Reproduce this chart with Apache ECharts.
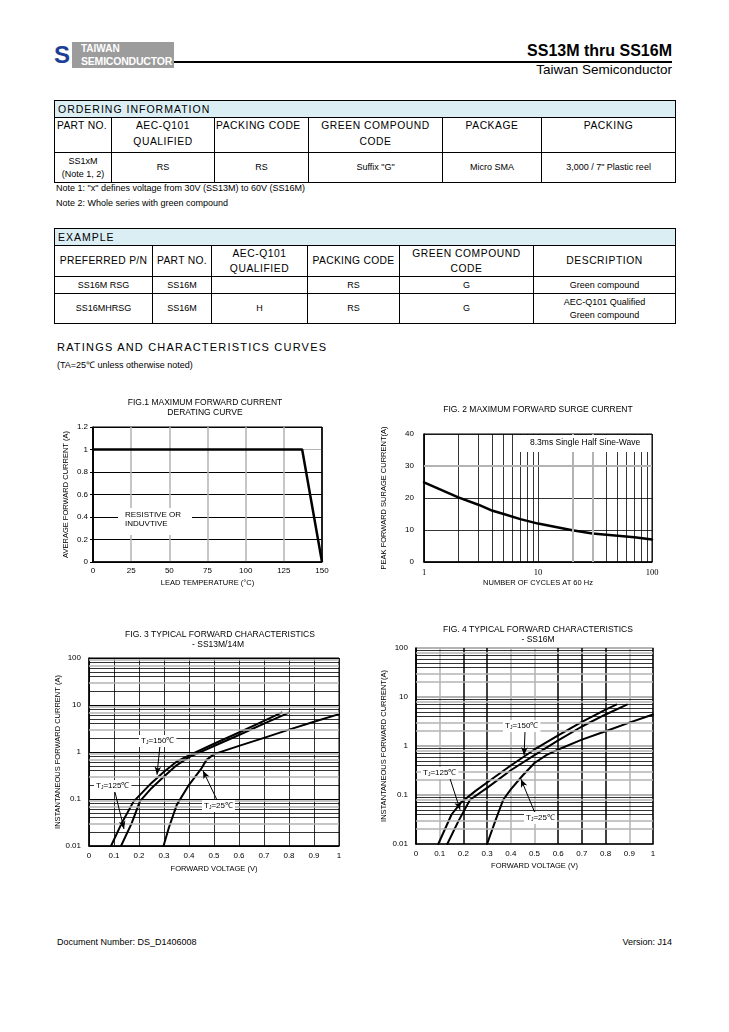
<!DOCTYPE html>
<html><head><meta charset="utf-8">
<script src="https://cdn.jsdelivr.net/npm/echarts@6/dist/echarts.min.js"></script>
<style>
body{margin:0;width:729px;height:1032px;background:#fff;font-family:"Liberation Sans",Arial,sans-serif;color:#000;position:relative;overflow:hidden}
.abs{position:absolute;white-space:nowrap}
table{border-collapse:collapse;position:absolute;table-layout:fixed}
td{border:1px solid #000;padding:0;text-align:center;vertical-align:middle}
.ttl td{background:#dbeef4;text-align:left;padding-left:3px;font-size:10.5px;letter-spacing:1px}
.hd td{font-size:10.3px;letter-spacing:0.55px;line-height:16px;white-space:nowrap}
.dt td{font-size:9px;line-height:13px}
#c{position:absolute;left:0;top:0;width:729px;height:1032px}
</style></head><body>
<!-- header -->
<div class="abs" style="left:52px;top:42px;width:20px;height:26px;background:#fff;color:#1d3f95;font:bold 24px/26px 'Liberation Sans';text-align:center">S</div>
<div class="abs" style="left:72px;top:42px;width:102px;height:26px;background:#9c9c9c;color:#fff"></div>
<div class="abs" style="left:81px;top:43px;color:#fff;font:bold 10px/12px 'Liberation Sans'">TAIWAN</div>
<div class="abs" style="left:81px;top:55px;color:#fff;font:bold 10.5px/12px 'Liberation Sans';letter-spacing:-0.2px">SEMICONDUCTOR</div>
<div class="abs" style="left:174px;top:61px;width:498px;height:1.5px;background:#000"></div>
<div class="abs" style="right:57px;top:41px;font:bold 16px/20px 'Liberation Sans'">SS13M thru SS16M</div>
<div class="abs" style="right:57px;top:62px;font:13.5px/16px 'Liberation Sans'">Taiwan Semiconductor</div>

<table style="left:54px;top:100px;width:621px">
<colgroup><col style="width:57px"><col style="width:103px"><col style="width:94px"><col style="width:134px"><col style="width:99px"><col style="width:134px"></colgroup>
<tr class="ttl" style="height:17px"><td colspan="6">ORDERING INFORMATION</td></tr>
<tr class="hd" style="height:35px"><td style="vertical-align:top;text-align:left;padding-left:2px;letter-spacing:0.3px">PART NO.</td><td style="vertical-align:top">AEC-Q101<br>QUALIFIED</td><td style="vertical-align:top;text-align:left;padding-left:1px">PACKING CODE</td><td style="vertical-align:top">GREEN COMPOUND<br>CODE</td><td style="vertical-align:top">PACKAGE</td><td style="vertical-align:top">PACKING</td></tr>
<tr class="dt" style="height:30px"><td>SS1xM<br>(Note 1, 2)</td><td>RS</td><td>RS</td><td>Suffix "G"</td><td>Micro SMA</td><td>3,000 / 7" Plastic reel</td></tr>
</table>
<div class="abs" style="left:56px;top:182px;font:9px/13px 'Liberation Sans'">Note 1: "x" defines voltage from 30V (SS13M) to 60V (SS16M)</div>
<div class="abs" style="left:56px;top:197px;font:9px/13px 'Liberation Sans'">Note 2: Whole series with green compound</div>

<table style="left:54px;top:228px;width:621px">
<colgroup><col style="width:98px"><col style="width:59px"><col style="width:96px"><col style="width:92px"><col style="width:134px"><col style="width:142px"></colgroup>
<tr class="ttl" style="height:17px"><td colspan="6">EXAMPLE</td></tr>
<tr class="hd" style="height:31px"><td style="letter-spacing:0.3px">PREFERRED P/N</td><td style="letter-spacing:0.3px">PART NO.</td><td style="line-height:15px">AEC-Q101<br>QUALIFIED</td><td style="letter-spacing:0.3px">PACKING CODE</td><td style="line-height:15px">GREEN COMPOUND<br>CODE</td><td>DESCRIPTION</td></tr>
<tr class="dt" style="height:17px"><td>SS16M RSG</td><td>SS16M</td><td></td><td>RS</td><td>G</td><td>Green compound</td></tr>
<tr class="dt" style="height:30px"><td>SS16MHRSG</td><td>SS16M</td><td>H</td><td>RS</td><td>G</td><td>AEC-Q101 Qualified<br>Green compound</td></tr>
</table>

<div class="abs" style="left:57px;top:340px;font:11px/14px 'Liberation Sans';letter-spacing:1.2px">RATINGS AND CHARACTERISTICS CURVES</div>
<div class="abs" style="left:57px;top:359px;font:9px/12px 'Liberation Sans'">(TA=25℃ unless otherwise noted)</div>

<div class="abs" style="left:57px;top:936px;font:9px/12px 'Liberation Sans'">Document Number: DS_D1406008</div>
<div class="abs" style="right:57px;top:936px;font:9px/12px 'Liberation Sans'">Version: J14</div>

<div id="c"></div>
<script>
// ---------- data ----------
const fig1Temp = [0, 137, 150];
const fig1Current = [1, 1, 0];
const fig1XTicks = ['0','25','50','75','100','125','150'];
const fig1YTicks = ['0','0.2','0.4','0.6','0.8','1','1.2'];

const fig2Cycles = [1, 2, 3, 4, 5, 7, 10, 20, 30, 50, 70, 100];
const fig2Surge  = [24.9, 20.2, 17.9, 16, 15, 13.4, 12, 9.9, 8.9, 8.2, 7.7, 7];
const fig2XTicks = ['1','10','100'];
const fig2YTicks = ['0','10','20','30','40'];

const fig3V150 = [0.088, 0.13, 0.178, 0.25, 0.3, 0.35, 0.4, 0.5, 0.6, 0.7, 0.77];
const fig3I150 = [0.01, 0.03, 0.088, 0.22, 0.38, 0.62, 0.85, 1.5, 2.6, 4.6, 6.9];
const fig3V125 = [0.128, 0.17, 0.204, 0.25, 0.3, 0.35, 0.4, 0.5, 0.6, 0.7, 0.8];
const fig3I125 = [0.01, 0.03, 0.09, 0.17, 0.3, 0.52, 0.78, 1.34, 2.3, 4.0, 6.9];
const fig3V25  = [0.298, 0.32, 0.351, 0.4, 0.45, 0.47, 0.5, 0.6, 0.7, 0.8, 0.9, 1.0];
const fig3I25  = [0.01, 0.025, 0.075, 0.2, 0.45, 0.68, 0.9, 1.35, 2.0, 3.0, 4.4, 6.4];

const fig4V150 = [0.094, 0.15, 0.19, 0.25, 0.3, 0.4, 0.5, 0.6, 0.7, 0.8, 0.845];
const fig4I150 = [0.01, 0.04, 0.07, 0.12, 0.18, 0.4, 0.85, 1.65, 3.1, 5.5, 7];
const fig4V125 = [0.132, 0.18, 0.228, 0.3, 0.4, 0.5, 0.6, 0.7, 0.8, 0.89];
const fig4I125 = [0.01, 0.03, 0.08, 0.14, 0.32, 0.65, 1.3, 2.5, 4.4, 7];
const fig4V25  = [0.3, 0.335, 0.368, 0.4, 0.45, 0.5, 0.55, 0.6, 0.7, 0.8, 0.9, 1.0];
const fig4I25  = [0.01, 0.03, 0.08, 0.13, 0.25, 0.45, 0.65, 0.85, 1.35, 2.0, 3.0, 4.4];

const voltTicks = ['0','0.1','0.2','0.3','0.4','0.5','0.6','0.7','0.8','0.9','1'];
const logTicks = ['0.01','0.1','1','10','100'];
const logDecades = [0.01, 0.1, 1, 10];
const logMultipliers = [2, 3, 4, 5, 6, 7, 8, 9];

// ---------- helpers ----------
const zip = (a, b) => a.map((v, i) => [v, b[i]]);
const BLACK = '#000', GREY = '#b3b3b3';
const FONT = 'Liberation Sans';

function hLine(v, color, width){ return {yAxis: v, lineStyle:{color, width, type:'solid'}}; }
function vLine(v, color, width){ return {xAxis: v, lineStyle:{color, width, type:'solid'}}; }

function gridSeries(idx, anchor, lines){
  return {type:'line', xAxisIndex:idx, yAxisIndex:idx, data:[anchor], symbol:'none',
    lineStyle:{opacity:0}, silent:true, z:1,
    markLine:{silent:true, symbol:['none','none'], label:{show:false}, animation:false, data:lines}};
}
function arrowSeries(idx, anchor, arrows){
  return {type:'line', xAxisIndex:idx, yAxisIndex:idx, data:[anchor], symbol:'none',
    lineStyle:{opacity:0}, silent:true, z:5,
    markLine:{silent:true, label:{show:false}, animation:false,
      lineStyle:{color:BLACK, width:1, type:'solid'},
      data: arrows.map(a => [{coord:a[0], symbol:'none'}, {coord:a[1], symbol:'arrow', symbolSize:[5,8]}])}};
}
function curve(idx, data, w){
  return {type:'line', xAxisIndex:idx, yAxisIndex:idx, data, symbol:'none', smooth:false,
    lineStyle:{color:BLACK, width:w, join:'round', cap:'round'}, z:3, silent:true};
}

// minor log grid lines
const fig3Minor = [];
logDecades.forEach(d => logMultipliers.forEach(m => {
  const grey = (m === 3 || m === 7 || m === 9);
  fig3Minor.push(hLine(d * m, grey ? GREY : BLACK, grey ? 1.5 : 0.8));
}));
const fig4Minor = [];
logDecades.forEach(d => logMultipliers.forEach(m => {
  const grey = (m === 2 || m === 3 || m === 8);
  fig4Minor.push(hLine(d * m, grey ? GREY : BLACK, grey ? 1.5 : 0.8));
}));
const fig2Minor = [];
[1, 10].forEach(d => logMultipliers.forEach(m => {
  const grey = (d === 10 && (m === 2 || m === 3));
  fig2Minor.push(vLine(d * m, grey ? GREY : BLACK, grey ? 2 : 0.8));
}));
fig2Minor.push(hLine(30, GREY, 2));

const labelStyle = {color:BLACK, fontFamily:FONT, fontSize:8};
const nameStyle = {color:BLACK, fontFamily:FONT, fontSize:7.5};

function xAxisBase(idx, extra){
  return Object.assign({gridIndex:idx, axisLine:{lineStyle:{color:BLACK, width:1.5}}, axisTick:{show:false},
    axisLabel:Object.assign({margin:5}, labelStyle), nameLocation:'middle', nameTextStyle:nameStyle}, extra);
}
function yAxisBase(idx, extra){
  return Object.assign({gridIndex:idx, axisLine:{show:true, lineStyle:{color:BLACK, width:1.5}}, axisTick:{show:true, length:3, lineStyle:{color:BLACK}},
    axisLabel:Object.assign({margin:6}, labelStyle), nameLocation:'middle', nameTextStyle:nameStyle, nameRotate:90}, extra);
}

function tjLabel(x, y, t){
  return {type:'text', x, y, z:100, style:{
    text:'{a|T}{b|J}{a|=' + t + '℃}', fill:BLACK, backgroundColor:'#fff', padding:[1,2,1,2],
    rich:{a:{fontFamily:FONT, fontSize:8, fill:BLACK, lineHeight:10}, b:{fontFamily:FONT, fontSize:5, fill:BLACK, padding:[4,0,0,0], lineHeight:10}},
    verticalAlign:'middle'}};
}
function title(x, y, text){
  return {type:'text', x, y, z:100, style:{text, fill:BLACK, font:'8.5px "Liberation Sans"', align:'center', verticalAlign:'middle', lineHeight:10}};
}

const chart = echarts.init(document.getElementById('c'), null, {renderer:'canvas', width:729, height:1032});
const option = {
  animation:false,
  backgroundColor:'transparent',
  grid:[
    {left:93, top:427, width:229, height:135, show:true, borderColor:BLACK, borderWidth:1},
    {left:424, top:434, width:228, height:128, show:true, borderColor:BLACK, borderWidth:1},
    {left:89, top:658, width:250, height:188, show:true, borderColor:BLACK, borderWidth:1},
    {left:416, top:648, width:237, height:196, show:true, borderColor:GREY, borderWidth:1.5}
  ],
  xAxis:[
    xAxisBase(0, {type:'value', min:0, max:150, interval:25, name:'LEAD TEMPERATURE (°C)', nameGap:17,
      axisLabel:Object.assign({margin:5, formatter:(v,i)=>fig1XTicks[i]}, labelStyle),
      splitLine:{show:true, lineStyle:{color:[BLACK,GREY,GREY,GREY,GREY,GREY,BLACK], width:1.5}}}),
    xAxisBase(1, {type:'log', logBase:10, min:1, max:100, splitNumber:2, name:'NUMBER OF CYCLES AT 60 Hz', nameGap:17,
      axisLabel:{margin:6, color:BLACK, fontFamily:'Liberation Serif', fontSize:8.5, formatter:(v,i)=>fig2XTicks[i]},
      splitLine:{show:true, lineStyle:{color:BLACK, width:0.8}}}),
    xAxisBase(2, {type:'value', min:0, max:1, interval:0.1, name:'FORWARD VOLTAGE (V)', nameGap:19,
      axisLabel:Object.assign({margin:6, formatter:(v,i)=>voltTicks[i]}, labelStyle),
      splitLine:{show:true, lineStyle:{color:BLACK, width:0.8}}}),
    xAxisBase(3, {type:'value', min:0, max:1, interval:0.1, name:'FORWARD VOLTAGE (V)', nameGap:18,
      axisLabel:Object.assign({margin:6, formatter:(v,i)=>voltTicks[i]}, labelStyle),
      splitLine:{show:true, lineStyle:{color:[BLACK,GREY,BLACK,BLACK,GREY,GREY,BLACK,BLACK,BLACK,GREY,BLACK], width:1.5}}})
  ],
  yAxis:[
    yAxisBase(0, {type:'value', min:0, max:1.2, interval:0.2, name:'AVERAGE FORWARD CURRENT (A)', nameGap:23,
      axisLabel:Object.assign({margin:5, formatter:(v,i)=>fig1YTicks[i]}, labelStyle),
      splitLine:{show:true, lineStyle:{color:[BLACK,BLACK,BLACK,BLACK,BLACK,GREY,BLACK], width:1}}}),
    yAxisBase(1, {type:'value', min:0, max:40, interval:10, name:'PEAK FORWARD SURAGE CURRENT(A)', nameGap:36,
      axisLabel:Object.assign({margin:10, formatter:(v,i)=>fig2YTicks[i]}, labelStyle), axisTick:{show:false},
      splitLine:{show:true, lineStyle:{color:BLACK, width:0.8}}}),
    yAxisBase(2, {type:'log', logBase:10, min:0.01, max:100, splitNumber:4, name:'INSTANTANEOUS FORWARD CURRENT (A)', nameGap:22,
      axisLabel:Object.assign({margin:8, formatter:(v,i)=>logTicks[i]}, labelStyle), axisTick:{show:false},
      splitLine:{show:true, lineStyle:{color:BLACK, width:1}}}),
    yAxisBase(3, {type:'log', logBase:10, min:0.01, max:100, splitNumber:4, name:'INSTANTANEOUS FORWARD CURRENT(A)', nameGap:28,
      axisLabel:Object.assign({margin:8, formatter:(v,i)=>logTicks[i]}, labelStyle), axisTick:{show:false},
      splitLine:{show:true, lineStyle:{color:GREY, width:2}}})
  ],
  series:[
    gridSeries(1, [1, 0], fig2Minor),
    gridSeries(2, [0, 0.01], fig3Minor),
    gridSeries(3, [0, 0.01], fig4Minor),
    {type:'line', xAxisIndex:0, yAxisIndex:0, data:zip(fig1Temp, fig1Current), symbol:'none', lineStyle:{color:BLACK, width:2.5}, z:3, silent:true},
    curve(1, zip(fig2Cycles, fig2Surge), 2.5),
    curve(2, zip(fig3V150, fig3I150), 2),
    curve(2, zip(fig3V125, fig3I125), 2),
    curve(2, zip(fig3V25, fig3I25), 2),
    curve(3, zip(fig4V150, fig4I150), 2),
    curve(3, zip(fig4V125, fig4I125), 2),
    curve(3, zip(fig4V25, fig4I25), 2),
    arrowSeries(2, [0, 0.01], [[[0.284, 1.4], [0.272, 0.33]], [[0.104, 0.14], [0.14, 0.023]], [[0.516, 0.086], [0.456, 0.4]]]),
    arrowSeries(3, [0, 0.01], [[[0.46, 2.0], [0.456, 0.65]], [[0.143, 0.22], [0.186, 0.05]], [[0.502, 0.043], [0.443, 0.21]]])
  ],
  graphic:[
    title(205, 403, 'FIG.1 MAXIMUM FORWARD CURRENT'),
    title(205, 413, 'DERATING CURVE'),
    title(538, 410, 'FIG. 2 MAXIMUM FORWARD SURGE CURRENT'),
    title(220, 635, 'FIG. 3 TYPICAL FORWARD CHARACTERISTICS'),
    title(218, 645, '- SS13M/14M'),
    title(538, 630, 'FIG. 4 TYPICAL FORWARD CHARACTERISTICS'),
    title(538, 640, '- SS16M'),
    {type:'rect', shape:{x:118, y:508, width:74, height:27}, style:{fill:'#fff'}, z:90},
    {type:'text', x:125, y:510, z:100, style:{text:'RESISTIVE OR\nINDUVTIVE', fill:BLACK, font:'8px "Liberation Sans"', lineHeight:9.5}},
    {type:'rect', shape:{x:518, y:435, width:133, height:17}, style:{fill:'#fff'}, z:90},
    {type:'text', x:530, y:443, z:100, style:{text:'8.3ms Single Half Sine-Wave', fill:BLACK, font:'8.5px "Liberation Sans"', verticalAlign:'middle'}},
    tjLabel(139, 741, '150'),
    tjLabel(94, 786, '125'),
    tjLabel(202, 806, '25'),
    tjLabel(503, 726, '150'),
    tjLabel(421, 773, '125'),
    tjLabel(524, 818, '25')
  ]
};
chart.setOption(option);
</script>
</body></html>
